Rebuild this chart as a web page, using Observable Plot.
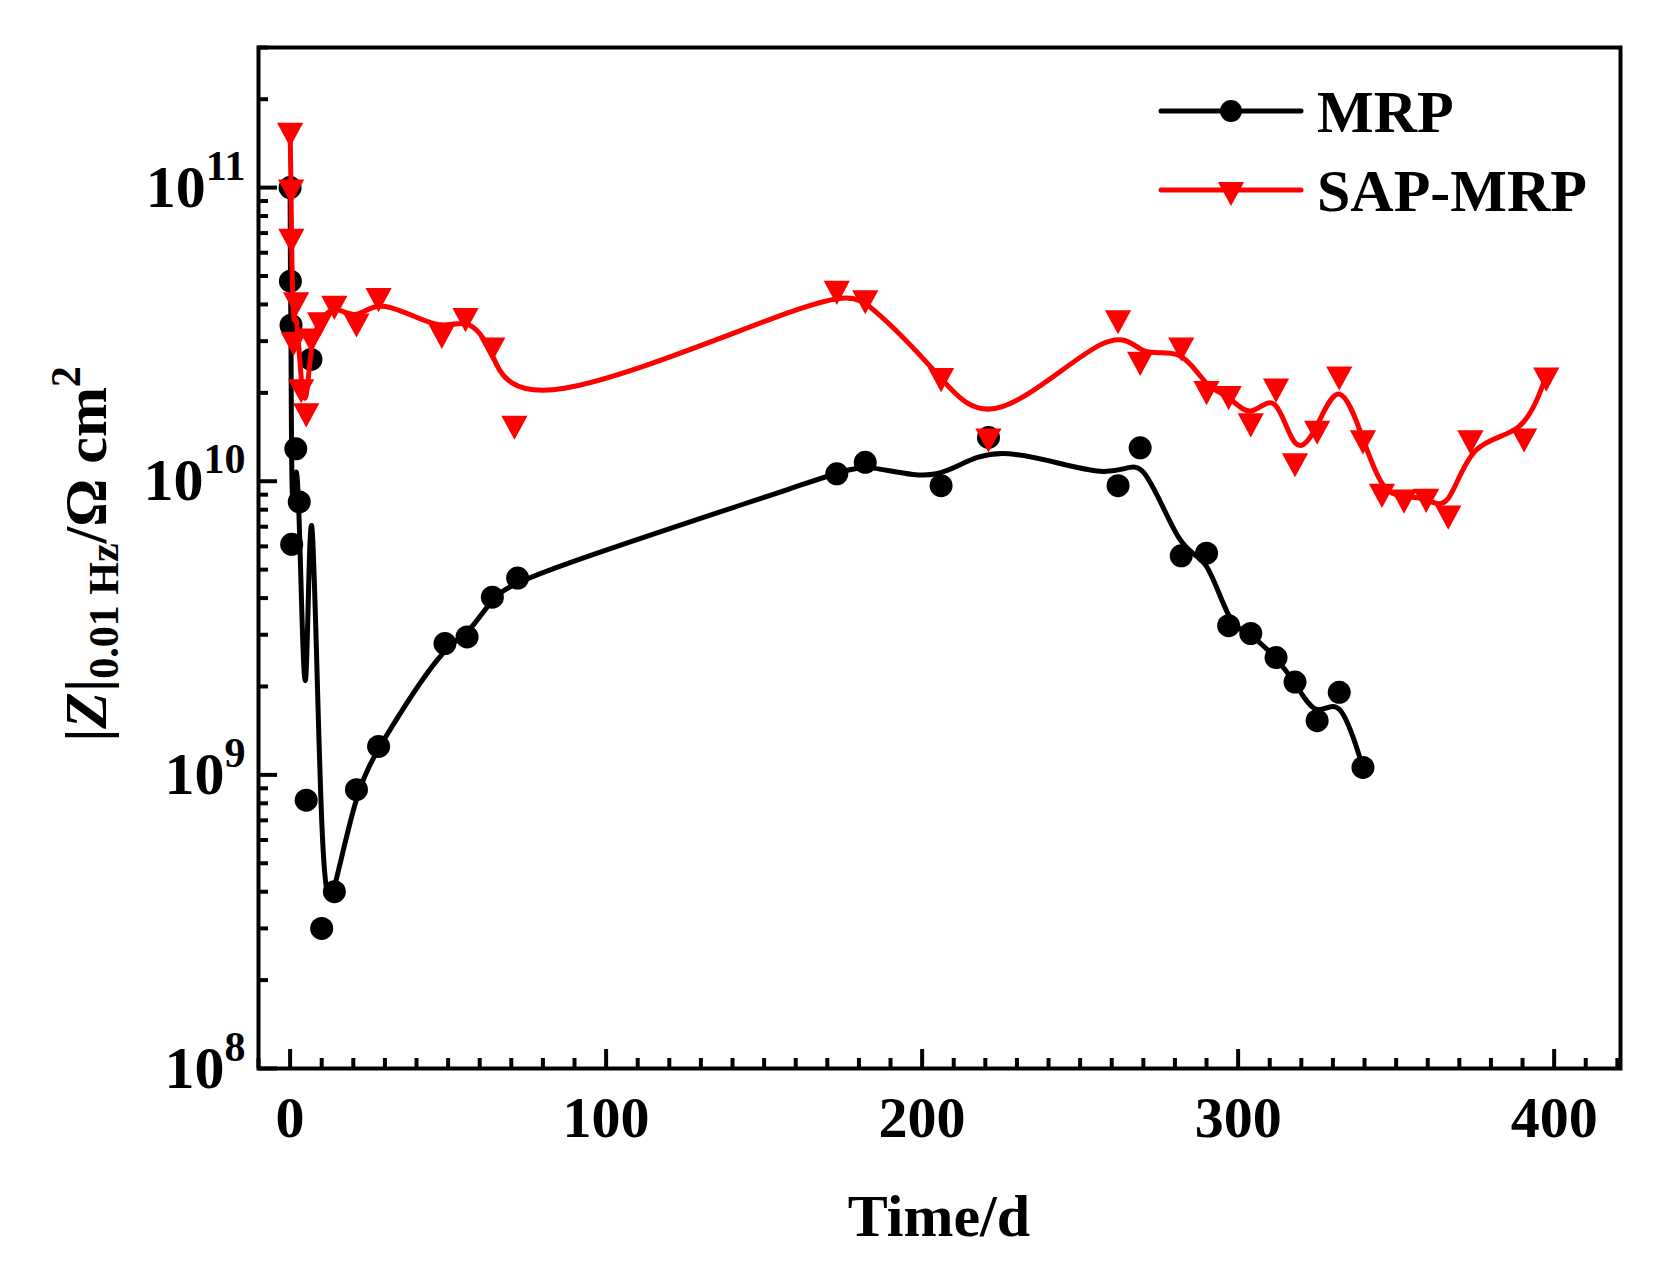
<!DOCTYPE html>
<html>
<head>
<meta charset="utf-8">
<script src="https://cdn.jsdelivr.net/npm/d3@7"></script>
<script src="https://cdn.jsdelivr.net/npm/@observablehq/plot@0.6"></script>
<style>
  body { margin: 0; background: #fff; }
  svg { display: block; }
</style>
</head>
<body>
<div id="chart"></div>
<script>
// ---- data ----
const seriesNames = ["MRP", "SAP-MRP"];
const seriesColors = ["#000000", "#ff0000"];

const mrpDays = [0, 0.1, 0.3, 0.5, 1.8, 2.9, 5.1, 6.6, 10, 14, 21, 28, 49, 56, 64, 72,
  173, 182, 206, 221, 262, 269, 282, 290, 297, 304, 312, 318, 325, 332, 339.5];
const mrpZ = [1.0e11, 4.8e10, 3.4e10, 6.1e9, 1.29e10, 8.5e9, 8.2e8, 2.6e10, 3.0e8, 4.0e8, 8.9e8, 1.25e9,
  2.8e9, 2.95e9, 4.03e9, 4.68e9, 1.06e10, 1.16e10, 9.66e9, 1.41e10, 9.66e9, 1.30e10, 5.57e9, 5.69e9,
  3.22e9, 3.03e9, 2.51e9, 2.07e9, 1.53e9, 1.91e9, 1.06e9];

const sapDays = [0, 0.3, 0.4, 1.1, 1.9, 3.5, 5.1, 6.7, 9.5, 14, 21, 28, 48, 55.5, 64, 71,
  173, 182, 206, 221, 262, 269, 282, 290, 297, 304, 312, 318, 325, 332, 339.5,
  345.5, 352.5, 359.5, 366.5, 373.5, 390.5, 397.5];
const sapZ = [1.56e11, 1.0e11, 6.8e10, 3.03e10, 4.13e10, 2.09e10, 1.73e10, 3.11e10, 3.53e10, 4.02e10,
  3.5e10, 4.27e10, 3.2e10, 3.65e10, 2.9e10, 1.57e10, 4.52e10, 4.2e10, 2.28e10, 1.42e10,
  3.59e10, 2.59e10, 2.9e10, 2.06e10, 1.98e10, 1.6e10, 2.1e10, 1.17e10, 1.51e10, 2.31e10,
  1.40e10, 9.2e9, 8.8e9, 8.85e9, 7.76e9, 1.40e10, 1.42e10, 2.29e10];

const xMajorTicks = [0, 100, 200, 300, 400];
const xMinorTicks = d3.range(-10, 421, 10).filter(v => v % 100 !== 0);
const yMajorTicks = [1e8, 1e9, 1e10, 1e11];
const yTickBase = ["10", "10", "10", "10"];
const yTickExponents = ["8", "9", "10", "11"];
const yMinorTicks = [1e8, 1e9, 1e10, 1e11].flatMap(p => [2,3,4,5,6,7,8,9].map(m => m * p)).filter(v => v <= 3e11);
const xTitle = "Time/d";

// ---- layout ----
const W = 1663, H = 1283;
const M = {top: 47, right: 43, bottom: 215, left: 258};
const plotW = W - M.left - M.right;
const plotH = H - M.top - M.bottom;
const FONT = "'Liberation Serif', 'Times New Roman', serif";

const mrp = mrpDays.map((d, i) => ({day: d, z: mrpZ[i]}));
const sap = sapDays.map((d, i) => ({day: d, z: sapZ[i]}));

// downward triangle symbol (centroid at the data point)
const triangleDown = {
  draw(ctx, size) {
    const s = Math.sqrt(size / Math.PI);
    const hw = s * 1.14, top = -s * 0.7, tip = s * 1.4;
    ctx.moveTo(-hw, top);
    ctx.lineTo(hw, top);
    ctx.lineTo(0, tip);
    ctx.closePath();
  }
};

const chart = Plot.plot({
  width: W,
  height: H,
  marginTop: M.top, marginRight: M.right, marginBottom: M.bottom, marginLeft: M.left,
  style: {fontFamily: FONT, background: "#fff", overflow: "visible"},
  x: {domain: [-10, 421]},
  y: {type: "log", domain: [1e8, 3e11]},
  marks: [
    Plot.tickX(xMinorTicks, {x: d => d, stroke: "#000", strokeWidth: 4, insetTop: plotH - 10}),
    Plot.tickX(xMajorTicks, {x: d => d, stroke: "#000", strokeWidth: 4, insetTop: plotH - 19}),
    Plot.tickY(yMinorTicks, {y: d => d, stroke: "#000", strokeWidth: 4, insetRight: plotW - 10}),
    Plot.tickY(yMajorTicks, {y: d => d, stroke: "#000", strokeWidth: 4, insetRight: plotW - 19}),
    Plot.axisX({ticks: xMajorTicks, tickSize: 0, tickPadding: 27, fontSize: 58, fontWeight: "bold",
      tickFormat: d => String(d), label: null, fill: "#000"}),
    Plot.axisY({ticks: yMajorTicks, tickSize: 0, tickPadding: 13, fontSize: 60, fontWeight: "bold",
      tickFormat: d => yTickBase[yMajorTicks.indexOf(d)], label: null, fill: "#000"}),
    Plot.line(mrp, {x: "day", y: "z", curve: "basis", stroke: seriesColors[0], strokeWidth: 5}),
    Plot.dot(mrp, {x: "day", y: "z", r: 11.5, fill: seriesColors[0], stroke: "none"}),
    Plot.line(sap, {x: "day", y: "z", curve: "basis", stroke: seriesColors[1], strokeWidth: 5}),
    Plot.dot(sap, {x: "day", y: "z", r: 11.5, symbol: triangleDown, fill: seriesColors[1], stroke: "none"}),
    Plot.frame({stroke: "#000", strokeWidth: 4})
  ]
});

document.getElementById("chart").appendChild(chart);
const svg = d3.select(chart);

// superscript exponents on y tick labels
svg.selectAll('g[aria-label="y-axis tick label"] text').each(function(d, i) {
  const t = d3.select(this);
  const base = t.text();
  t.text(null);
  t.append("tspan").text(base);
  t.append("tspan").attr("font-size", 42).attr("dy", -27).text(yTickExponents[i]);
});

// x-axis title
svg.append("text")
  .attr("x", (M.left + W - M.right) / 2)
  .attr("y", 1236)
  .attr("text-anchor", "middle")
  .attr("font-family", FONT).attr("font-weight", "bold").attr("font-size", 60)
  .attr("fill", "#000")
  .text(xTitle);

// y-axis title: |Z|0.01 Hz/Ω cm2
const yl = svg.append("text")
  .attr("transform", "translate(106,554) rotate(-90)")
  .attr("text-anchor", "middle")
  .attr("font-family", FONT).attr("font-weight", "bold").attr("font-size", 60)
  .attr("fill", "#000");
yl.append("tspan").text("|");
yl.append("tspan").attr("font-style", "italic").text("Z");
yl.append("tspan").text("|");
yl.append("tspan").attr("font-size", 42).attr("dy", 12).text("0.01 Hz");
yl.append("tspan").attr("dy", -12).text("/Ω cm");
yl.append("tspan").attr("font-size", 42).attr("dy", -26).text("2");

// legend
const legendRows = [111, 190];
const legend = svg.append("g").attr("font-family", FONT).attr("font-weight", "bold").attr("font-size", 60);
seriesNames.forEach((name, i) => {
  const y = legendRows[i];
  legend.append("line").attr("x1", 1161).attr("x2", 1301).attr("y1", y).attr("y2", y)
    .attr("stroke", seriesColors[i]).attr("stroke-width", 5).attr("stroke-linecap", "round");
  if (i === 0) {
    legend.append("circle").attr("cx", 1231).attr("cy", y).attr("r", 11).attr("fill", seriesColors[i]);
  } else {
    legend.append("path").attr("transform", `translate(1231,${y})`)
      .attr("d", d3.symbol(triangleDown, 11.5 * 11.5 * Math.PI)()).attr("fill", seriesColors[i]);
  }
  legend.append("text").attr("x", 1317).attr("y", y + 21).attr("text-anchor", "start")
    .attr("fill", "#000").text(name);
});
</script>
</body>
</html>
